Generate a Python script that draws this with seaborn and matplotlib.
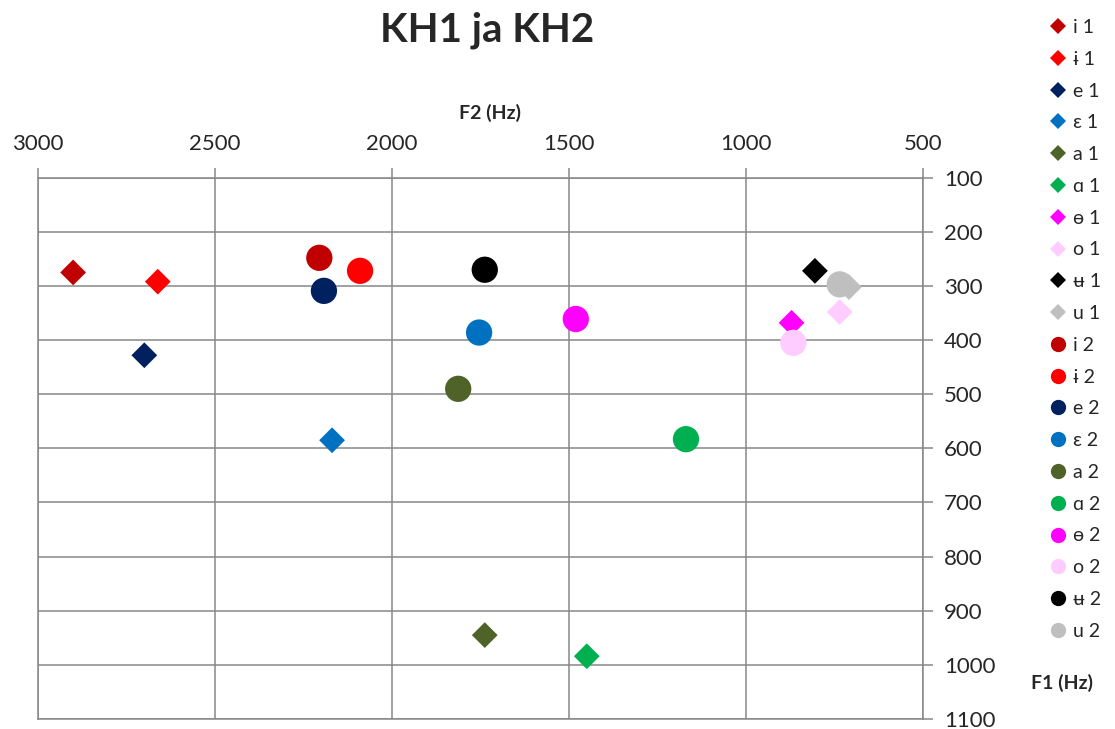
import numpy as np
import pandas as pd
import matplotlib
matplotlib.use('Agg')
import matplotlib.pyplot as plt
from matplotlib.lines import Line2D
import seaborn as sns

# vowels, colours and formant values
vowels = ['i', 'ɨ', 'e', 'ɛ', 'a', 'ɑ', 'ɵ', 'o', 'ʉ', 'u']
colors = ['#C00000', '#FF0000', '#002060', '#0070C0', '#4F6228',
          '#00B050', '#FF00FF', '#FFCCFF', '#000000', '#BFBFBF']

f2_kh1 = [2900, 2661, 2699, 2169, 1738, 1450, 872, 736, 806, 710]
f1_kh1 = [275, 292, 428, 585, 945, 984, 368, 348, 272, 302]
f2_kh2 = [2205, 2090, 2192, 1754, 1813, 1170, 1481, 867, 1738, 736]
f1_kh2 = [248, 272, 309, 386, 490, 583, 361, 405, 270, 297]

x_ticks = [500, 1000, 1500, 2000, 2500, 3000]
y_ticks = [100, 200, 300, 400, 500, 600, 700, 800, 900, 1000, 1100]

labels_1 = [f'{v} 1' for v in vowels]
labels_2 = [f'{v} 2' for v in vowels]
df1 = pd.DataFrame({'label': labels_1, 'F2': f2_kh1, 'F1': f1_kh1})
df2 = pd.DataFrame({'label': labels_2, 'F2': f2_kh2, 'F1': f1_kh2})

sns.set_theme(style='white')
plt.rcParams['font.family'] = ['Lato', 'DejaVu Sans']

grid_col = '#878787'

fig = plt.figure(figsize=(11.15, 7.29), dpi=100)
ax = fig.add_axes([0.0338, 0.0137, 0.7943, 0.7425])
ax.set_axisbelow(True)

sns.scatterplot(data=df1, x='F2', y='F1', hue='label', palette=dict(zip(labels_1, colors)),
                marker='D', s=172, linewidth=0, legend=False, ax=ax, zorder=3)
sns.scatterplot(data=df2, x='F2', y='F1', hue='label', palette=dict(zip(labels_2, colors)),
                marker='o', s=358, linewidth=0, legend=False, ax=ax, zorder=4)

ax.set_xlim(3000, 500)
ax.set_ylim(1100, 100)
ax.set_xticks(x_ticks)
ax.set_yticks(y_ticks)
ax.xaxis.tick_top()
ax.yaxis.tick_right()
ax.set_xlabel('')
ax.set_ylabel('')
ax.grid(True, color=grid_col, lw=1.1)
for sp in ax.spines.values():
    sp.set_color(grid_col)
    sp.set_linewidth(1.1)
ax.tick_params(axis='x', direction='out', length=7, width=1.1, color=grid_col,
               labelsize=16, pad=10, top=True, bottom=False)
ax.tick_params(axis='y', direction='out', length=7, width=1.1, color=grid_col,
               labelsize=16, pad=8, right=True, left=False)

fig.text(0.437, 0.959, 'KH1 ja KH2', ha='center', va='center', fontsize=29, fontweight='bold')
fig.text(0.4395, 0.845, 'F2 (Hz)', ha='center', va='center', fontsize=14, fontweight='bold')
fig.text(0.9525, 0.063, 'F1 (Hz)', ha='center', va='center', fontsize=14, fontweight='bold')

handles = [Line2D([], [], ls='none', marker='D', markersize=8, color=c, markeredgewidth=0)
           for c in colors]
handles += [Line2D([], [], ls='none', marker='o', markersize=11, color=c, markeredgewidth=0)
            for c in colors]
fig.legend(handles, labels_1 + labels_2, loc='upper left', bbox_to_anchor=(0.9417, 0.974),
           frameon=False, fontsize=14, handlelength=0.8, handletextpad=0.4,
           borderpad=0, borderaxespad=0, labelspacing=0.76)

fig.savefig('out.png', dpi=100)
